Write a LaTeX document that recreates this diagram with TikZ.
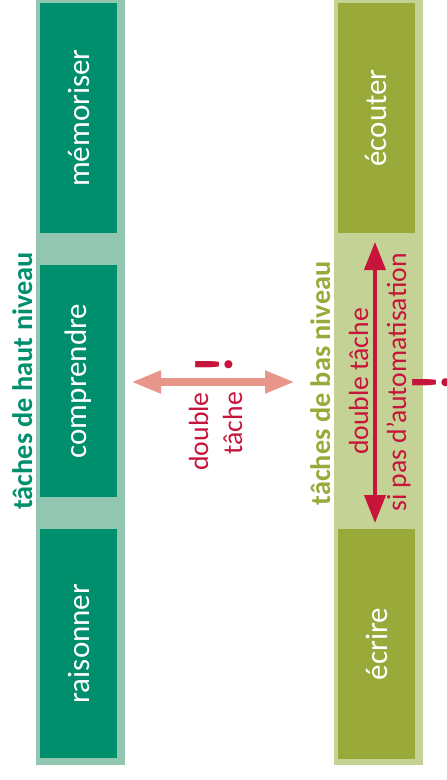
\documentclass[tikz,border=0pt]{standalone}
\usepackage{fontspec}
\setmainfont{Carlito}
\usetikzlibrary{arrows.meta}
\definecolor{gdark}{HTML}{008F6C}
\definecolor{glight}{HTML}{92C6B0}
\definecolor{odark}{HTML}{9AAA3A}
\definecolor{olight}{HTML}{C4D296}
\definecolor{redc}{HTML}{C6143A}
\definecolor{pinkc}{HTML}{E9968A}
\begin{document}
\begin{tikzpicture}[x=1pt,y=-1pt,
  taskbox/.style={fill=#1, draw=none, text=white, rotate=90, inner sep=0pt,
    minimum height=77pt, font=\fontsize{31}{37}\selectfont},
  grouplabel/.style={text=#1, rotate=90, anchor=base, inner sep=0pt,
    font=\fontsize{28.3}{34}\selectfont\bfseries},
  redtext/.style={text=redc, rotate=90, inner sep=0pt,
    font=\fontsize{27.7}{34}\selectfont},
  bang/.style={text=redc, rotate=90, inner sep=0pt,
    font=\fontsize{54}{60}\selectfont\bfseries},
]
\useasboundingbox (0,0) rectangle (447,780);
% bands
\fill[glight] (35.5,0) rectangle (124.5,765);
\fill[olight] (334,0) rectangle (423,765);
% task boxes
\node[taskbox=gdark, minimum width=230pt] (memo) at (78.5,118) {mémoriser};
\node[taskbox=gdark, minimum width=232pt] (comp) at (78.5,381) {comprendre};
\node[taskbox=gdark, minimum width=229pt] (rais) at (78.5,643.5) {raisonner};
\node[taskbox=odark, minimum width=230pt] (ecou) at (376.5,118) {écouter};
\node[taskbox=odark, minimum width=230pt] (ecri) at (376.5,644) {écrire};
% group labels
\node[grouplabel=gdark] (haut) at (32,381) {tâches de haut niveau};
\node[grouplabel=odark] (bas) at (330,383.5) {tâches de bas niveau};
% middle double-task arrow
\coordinate (pa1) at (131,382);
\coordinate (pa2) at (295,382);
\draw[pinkc, line width=8pt, {Triangle[length=30pt,width=21pt]}-{Triangle[length=30pt,width=21pt]}] (pa1) -- (pa2);
\node[bang] (bang1) at (214,365) {!};
\node[redtext, anchor=base east] (dbl1) at (208,392) {double};
\node[redtext, anchor=base east] (tch1) at (242,392) {tâche};
% right double-task arrow
\coordinate (ra1) at (375,242);
\coordinate (ra2) at (375,523);
\draw[redc, line width=4pt, {Triangle[length=28pt,width=21pt]}-{Triangle[length=28pt,width=21pt]}] (ra1) -- (ra2);
\node[redtext, anchor=base] (dbl2) at (368,381.5) {double tâche};
\node[redtext, anchor=base] (auto) at (406,382.5) {si pas d’automatisation};
\node[bang] (bang2) at (431.5,383) {!};
\end{tikzpicture}
\end{document}
